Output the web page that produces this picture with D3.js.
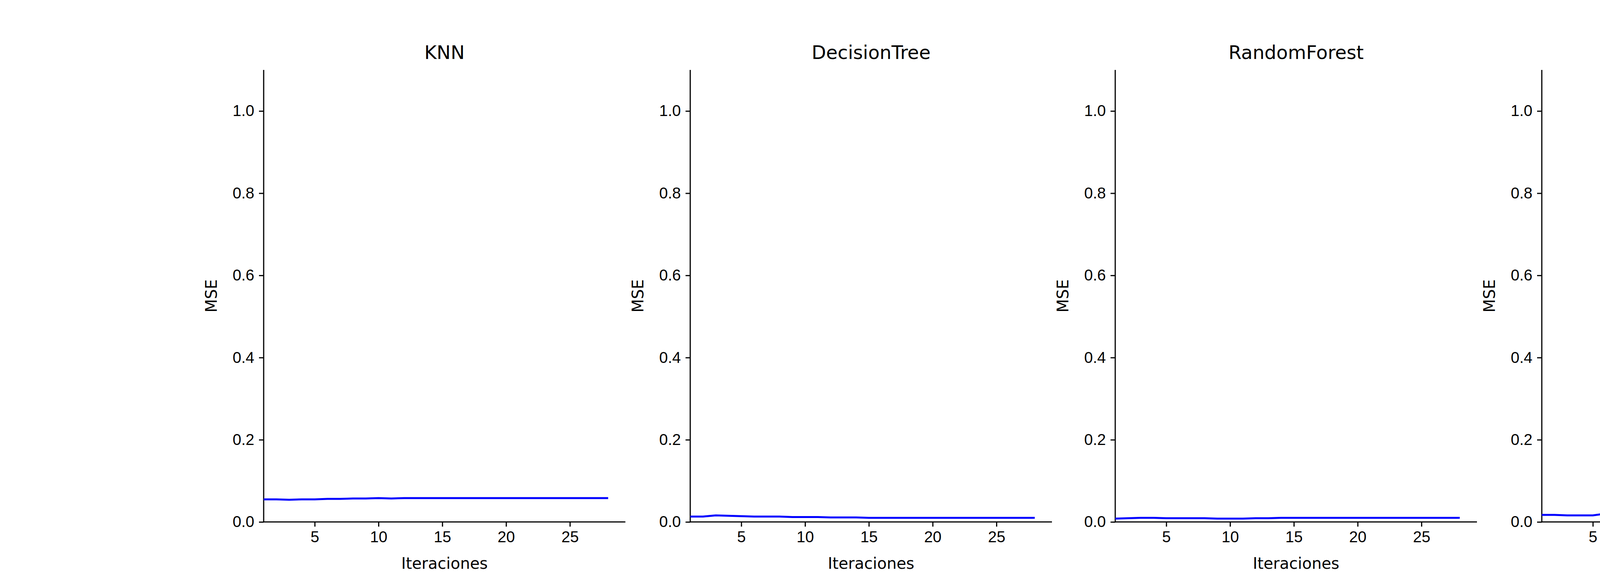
<!DOCTYPE html>
<html>
<head>
<script src="https://d3js.org/d3.v7.min.js"></script>
<style>body{margin:0;background:#fff;}</style>
</head>
<body>
<script>
var models = ["KNN", "DecisionTree", "RandomForest", "NeuralNetwork"];
var iterations = d3.range(1, 29);
var knnMse = [0.055,0.055,0.054,0.055,0.055,0.056,0.056,0.057,0.057,0.058,0.057,0.058,0.058,0.058,0.058,0.058,0.058,0.058,0.058,0.058,0.058,0.058,0.058,0.058,0.058,0.058,0.058,0.058];
var treeMse = [0.013,0.013,0.016,0.015,0.014,0.013,0.013,0.013,0.012,0.012,0.012,0.011,0.011,0.011,0.010,0.010,0.010,0.010,0.010,0.010,0.010,0.010,0.010,0.010,0.010,0.010,0.010,0.010];
var forestMse = [0.008,0.009,0.010,0.010,0.009,0.009,0.009,0.009,0.008,0.008,0.008,0.009,0.009,0.010,0.010,0.010,0.010,0.010,0.010,0.010,0.010,0.010,0.010,0.010,0.010,0.010,0.010,0.010];
var nnMse = [0.017,0.017,0.016,0.016,0.016,0.020,0.020,0.023,0.022,0.025,0.025,0.025,0.026,0.026,0.026,0.028,0.027,0.027,0.027,0.027,0.026,0.026,0.027,0.028,0.026,0.027,0.026,0.027];
var series = [knnMse, treeMse, forestMse, nnMse];
var yTicks = [0, 0.2, 0.4, 0.6, 0.8, 1.0];
var xTicks = [5, 10, 15, 20, 25];

var W = 5400, H = 1500;
var panelLeft = [675, 1767, 2855, 3947], panelW = 926, plotTop = 179, plotBottom = 1336;
var plotH = plotBottom - plotTop;
var svg = d3.select("body").append("svg").attr("width", W).attr("height", H)
  .style("font-family", "DejaVu Sans");

models.forEach(function(name, i) {
  var x = d3.scaleLinear().domain([1, 29.35]).range([0, panelW]);
  var y = d3.scaleLinear().domain([0, 1.1]).range([plotH, 0]);
  var g = svg.append("g").attr("transform", "translate(" + panelLeft[i] + "," + plotTop + ")");

  var xa = g.append("g").attr("transform", "translate(0," + plotH + ")")
    .call(d3.axisBottom(x).tickValues(xTicks).tickSize(12).tickPadding(12));
  var ya = g.append("g")
    .call(d3.axisLeft(y).tickValues(yTicks).tickFormat(d3.format(".1f")).tickSize(12).tickPadding(12));
  [xa, ya].forEach(function(a) {
    a.selectAll("text").style("font-size", "40px").attr("fill", "#000");
    a.selectAll("line").attr("stroke-width", 3);
    a.select(".domain").attr("stroke-width", 3);
  });
  xa.select(".domain").attr("d", "M0,0H" + panelW);
  ya.select(".domain").attr("d", "M0," + plotH + "V0");

  g.append("path").datum(series[i])
    .attr("fill", "none").attr("stroke", "#0000ff").attr("stroke-width", 5)
    .attr("d", d3.line().x(function(d, j) { return x(iterations[j]); }).y(function(d) { return y(d); }));

  g.append("text").attr("x", panelW / 2).attr("y", -28).attr("text-anchor", "middle")
    .style("font-size", "48px").text(name);
  g.append("text").attr("x", panelW / 2).attr("y", plotH + 120).attr("text-anchor", "middle")
    .style("font-size", "40px").text("Iteraciones");
  g.append("text").attr("transform", "translate(-120," + plotH / 2 + ") rotate(-90)")
    .attr("text-anchor", "middle").style("font-size", "40px").text("MSE");
});
</script>
</body>
</html>
